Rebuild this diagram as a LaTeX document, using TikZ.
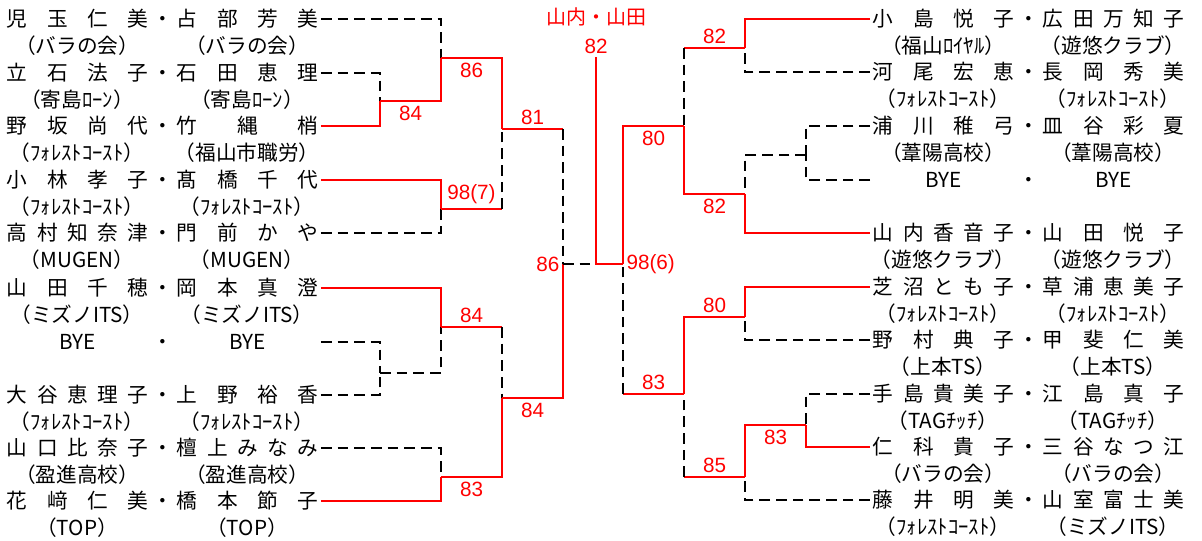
\documentclass[tikz,border=0pt]{standalone}
\usepackage{fontspec}
\setmainfont{Noto Sans CJK JP}
\newfontfamily\scorefont{Liberation Sans}

\newcommand{\fieldw}{105.75pt}
\newcommand{\dotw}{21.75pt}
% one pair: name, x, y, first, second, club of first, club of second
\newcommand{\team}[7]{%
	\node[names] (#1) at (#2,#3) {\makebox[\fieldw][s]{#4}\makebox[\dotw]{・}\makebox[\fieldw][s]{#5}};
	\node[club] (#1a) at ({#2+73},{#3+27}) {#6};
	\node[club] (#1b) at ({#2+243},{#3+27}) {#7};}
\newcommand{\byeteam}[3]{%
	\node[names] (#1) at (#2,#3) {\makebox[\fieldw]{BYE}\makebox[\dotw]{・}\makebox[\fieldw]{BYE}};}

\begin{document}
\begin{tikzpicture}[x=0.75pt, y=-0.75pt,
	names/.style={anchor=west, inner sep=2pt, font=\fontsize{15.5}{18}\selectfont},
	club/.style={inner sep=0pt, font=\fontsize{15.5}{18}\selectfont},
	win/.style={red, line width=2.1pt},
	lose/.style={black, line width=2.1pt, dash pattern=on 8pt off 4.5pt},
	score/.style={red, inner sep=2.5pt, font=\scorefont\fontsize{15.5}{18}\selectfont}]
	\useasboundingbox (0,0) rectangle (1202,541);

	% left half
	\team{L1}{4}{19}{児\hfill 玉\hfill 仁\hfill 美}{占\hfill 部\hfill 芳\hfill 美}{（バラの会）}{（バラの会）}
	\team{L2}{4}{73}{立\hfill 石\hfill 法\hfill 子}{石\hfill 田\hfill 恵\hfill 理}{（寄島ﾛｰﾝ）}{（寄島ﾛｰﾝ）}
	\team{L3}{4}{126}{野\hfill 坂\hfill 尚\hfill 代}{竹\hfill 縄\hfill 梢}{（ﾌｫﾚｽﾄｺｰｽﾄ）}{（福山市職労）}
	\team{L4}{4}{180}{小\hfill 林\hfill 孝\hfill 子}{髙\hfill 橋\hfill 千\hfill 代}{（ﾌｫﾚｽﾄｺｰｽﾄ）}{（ﾌｫﾚｽﾄｺｰｽﾄ）}
	\team{L5}{4}{233}{高\hfill 村\hfill 知\hfill 奈\hfill 津}{門\hfill 前\hfill か\hfill や}{（MUGEN）}{（MUGEN）}
	\team{L6}{4}{288}{山\hfill 田\hfill 千\hfill 穂}{岡\hfill 本\hfill 真\hfill 澄}{（ミズノITS）}{（ミズノITS）}
	\byeteam{L7}{4}{342}
	\team{L8}{4}{395}{大\hfill 谷\hfill 恵\hfill 理\hfill 子}{上\hfill 野\hfill 裕\hfill 香}{（ﾌｫﾚｽﾄｺｰｽﾄ）}{（ﾌｫﾚｽﾄｺｰｽﾄ）}
	\team{L9}{4}{448}{山\hfill 口\hfill 比\hfill 奈\hfill 子}{檀\hfill 上\hfill み\hfill な\hfill み}{（盈進高校）}{（盈進高校）}
	\team{L10}{4}{501}{花\hfill 﨑\hfill 仁\hfill 美}{橋\hfill 本\hfill 節\hfill 子}{（TOP）}{（TOP）}

	% right half
	\team{R1}{870}{19}{小\hfill 島\hfill 悦\hfill 子}{広\hfill 田\hfill 万\hfill 知\hfill 子}{（福山ﾛｲﾔﾙ）}{（遊悠クラブ）}
	\team{R2}{870}{72}{河\hfill 尾\hfill 宏\hfill 恵}{長\hfill 岡\hfill 秀\hfill 美}{（ﾌｫﾚｽﾄｺｰｽﾄ）}{（ﾌｫﾚｽﾄｺｰｽﾄ）}
	\team{R3}{870}{126}{浦\hfill 川\hfill 稚\hfill 弓}{皿\hfill 谷\hfill 彩\hfill 夏}{（葦陽高校）}{（葦陽高校）}
	\byeteam{R4}{870}{180}
	\team{R5}{870}{233}{山\hfill 内\hfill 香\hfill 音\hfill 子}{山\hfill 田\hfill 悦\hfill 子}{（遊悠クラブ）}{（遊悠クラブ）}
	\team{R6}{870}{287}{芝\hfill 沼\hfill と\hfill も\hfill 子}{草\hfill 浦\hfill 恵\hfill 美\hfill 子}{（ﾌｫﾚｽﾄｺｰｽﾄ）}{（ﾌｫﾚｽﾄｺｰｽﾄ）}
	\team{R7}{870}{340}{野\hfill 村\hfill 典\hfill 子}{甲\hfill 斐\hfill 仁\hfill 美}{（上本TS）}{（上本TS）}
	\team{R8}{870}{394}{手\hfill 島\hfill 貴\hfill 美\hfill 子}{江\hfill 島\hfill 真\hfill 子}{（TAGﾁｯﾁ）}{（TAGﾁｯﾁ）}
	\team{R9}{870}{447}{仁\hfill 科\hfill 貴\hfill 子}{三\hfill 谷\hfill な\hfill つ\hfill 江}{（バラの会）}{（バラの会）}
	\team{R10}{870}{500}{藤\hfill 井\hfill 明\hfill 美}{山\hfill 室\hfill 富\hfill 士\hfill 美}{（ﾌｫﾚｽﾄｺｰｽﾄ）}{（ミズノITS）}

	% junctions
	\coordinate (m1) at (380,101);
	\coordinate (m2) at (441,58);
	\coordinate (m3) at (441,209);
	\coordinate (m4) at (502,129);
	\coordinate (m5) at (380,373);
	\coordinate (m6) at (441,327);
	\coordinate (m7) at (441,477);
	\coordinate (m8) at (502,398);
	\coordinate (m9) at (563,264);
	\coordinate (fin) at (596,264);
	\coordinate (n1) at (745,48);
	\coordinate (n2) at (806,155);
	\coordinate (n3) at (745,194);
	\coordinate (n4) at (684,126);
	\coordinate (n5) at (745,317);
	\coordinate (n6) at (806,425);
	\coordinate (n7) at (745,477);
	\coordinate (n8) at (684,394);
	\coordinate (n9) at (623,264);

	% champion
	\node[red, inner sep=0pt, font=\fontsize{15}{18}\selectfont] (champname) at (596,17) {山内・山田};
	\node[score] (champ) at (596,46) {82};

	% left brackets
	\draw[lose] (L2.east) -| (m1);
	\draw[win] (L3.east) -| (m1);
	\draw[win] (m1) -| node[score, pos=0.25, below] (s1) {84} (m2);
	\draw[lose] (L1.east) -| (m2);
	\draw[win] (m2) -| node[score, pos=0.25, below] (s2) {86} (m4);
	\draw[win] (L4.east) -| (m3);
	\draw[lose] (L5.east) -| (m3);
	\draw[win] (m3) -- node[score, above] (s3) {98(7)} (m3 -| m4);
	\draw[lose] (m3 -| m4) -- (m4);
	\draw[win] (m4) -- node[score, above] (s4) {81} (m4 -| m9);
	\draw[lose] (m4 -| m9) -- (m9);
	\draw[lose] (L7.east) -| (m5);
	\draw[lose] (L8.east) -| (m5);
	\draw[lose] (m5) -| (m6);
	\draw[win] (L6.east) -| (m6);
	\draw[win] (m6) -- node[score, above] (s5) {84} (m6 -| m8);
	\draw[lose] (m6 -| m8) -- (m8);
	\draw[lose] (L9.east) -| (m7);
	\draw[win] (L10.east) -| (m7);
	\draw[win] (m7) -| node[score, pos=0.25, below] (s6) {83} (m8);
	\draw[win] (m8) -| node[score, pos=0.25, below] (s7) {84} (m9);
	\node[score, left] (s8) at (m9) {86};
	\draw[lose] (m9) -- (fin);

	% right brackets
	\draw[win] (R1.west) -| (n1);
	\draw[lose] (R2.west) -| (n1);
	\draw[win] (n1) -- node[score, above] (t1) {82} (n1 -| n4);
	\draw[lose] (n1 -| n4) -- (n4);
	\draw[lose] (R3.west) -| (n2);
	\draw[lose] (R4.west) -| (n2);
	\draw[lose] (n2) -| (n3);
	\draw[win] (R5.west) -| (n3);
	\draw[win] (n3) -| node[score, pos=0.25, below] (t2) {82} (n4);
	\draw[win] (n4) -| node[score, pos=0.25, below] (t3) {80} (n9);
	\draw[win] (R6.west) -| (n5);
	\draw[lose] (R7.west) -| (n5);
	\draw[win] (n5) -| node[score, pos=0.25, above] (t4) {80} (n8);
	\draw[lose] (R8.west) -| (n6);
	\draw[win] (R9.west) -| (n6);
	\draw[win] (n6) -| node[score, pos=0.25, below] (t5) {83} (n7);
	\draw[lose] (R10.west) -| (n7);
	\draw[win] (n7) -- node[score, above] (t6) {85} (n7 -| n8);
	\draw[lose] (n7 -| n8) -- (n8);
	\draw[win] (n8) -- node[score, above] (t7) {83} (n8 -| n9);
	\draw[lose] (n8 -| n9) -- (n9);
	\node[score, right] (t8) at (n9) {98(6)};
	\draw[win] (n9) -- (fin) -- (champ.south);
\end{tikzpicture}
\end{document}
